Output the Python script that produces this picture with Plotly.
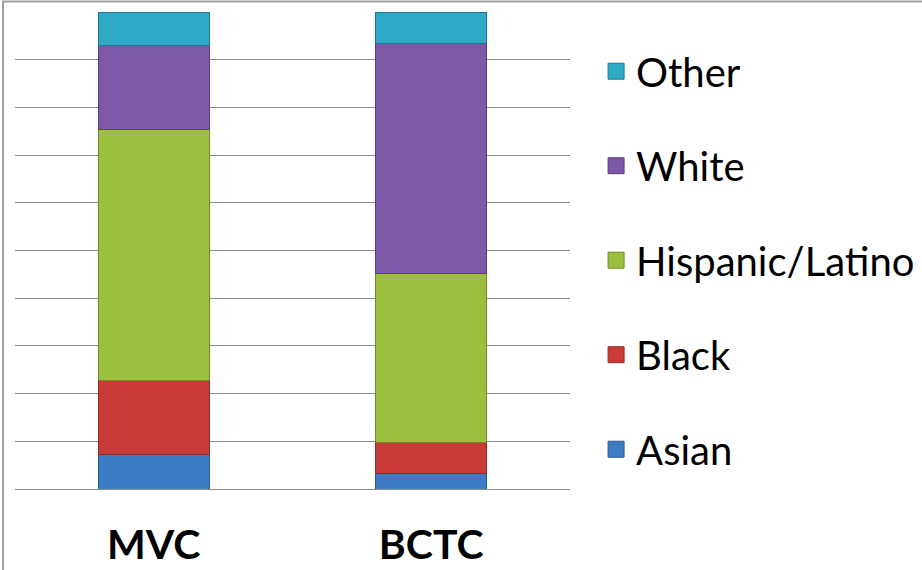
import plotly.graph_objects as go

categories = ["MVC", "BCTC"]
series_names = ["Asian", "Black", "Hispanic/Latino", "White", "Other"]
asian = [7.3, 3.3]
black = [15.4, 6.4]
hispanic = [52.6, 35.4]
white = [17.6, 48.3]
other = [7.1, 6.6]
values = [asian, black, hispanic, white, other]
colors = ["#3D7DC6", "#C93B39", "#9CBF3E", "#7E58A8", "#2EAAC6"]
edges = ["#2A5A91", "#8E2A28", "#6F8A2A", "#5A3D7A", "#1F7A90"]

fig = go.Figure()
for name, vals, c, e in zip(series_names, values, colors, edges):
    fig.add_trace(go.Bar(
        x=categories, y=vals, name=name, legendgroup=name, showlegend=False,
        marker=dict(color=c, line=dict(color=e, width=1)),
        width=0.4, hoverinfo="skip",
    ))

# legend entries (larger square symbols), top to bottom
for name, c, e in reversed(list(zip(series_names, colors, edges))):
    fig.add_trace(go.Scatter(
        x=[None], y=[None], mode="markers", name=name, legendgroup=name,
        marker=dict(symbol="square", size=16, color=c, line=dict(color=e, width=1)),
        showlegend=True,
    ))

fig.update_layout(
    barmode="stack",
    width=922, height=570,
    margin=dict(l=15, r=352, t=12, b=81, autoexpand=False),
    paper_bgcolor="white", plot_bgcolor="white",
    font=dict(family="Lato, Open Sans, sans-serif", color="black"),
    showlegend=True,
    legend=dict(
        x=1.047, xanchor="left", y=0.944, yanchor="top",
        traceorder="grouped", tracegroupgap=39.5,
        font=dict(size=40, family="Lato, sans-serif"),
        itemwidth=30,
    ),
    xaxis=dict(
        tickfont=dict(size=41, family="Lato, sans-serif", weight="bold"),
        showline=False, ticks="", showgrid=False, ticklabelstandoff=28,
        automargin=False,
    ),
    yaxis=dict(
        range=[0, 100], dtick=10, showgrid=True, gridcolor="#8c8c8c",
        gridwidth=1, showticklabels=False, zeroline=True,
        zerolinecolor="#8c8c8c", zerolinewidth=1, ticks="", automargin=False,
    ),
    bargap=0.6,
)

fig.add_shape(type="rect", xref="paper", yref="paper",
              x0=(3 - 15) / 555, x1=2, y0=-1, y1=(489 - 1.5) / 477,
              line=dict(color="#a0a0a0", width=2), layer="above")

fig.write_html("out.html", config={"displayModeBar": False},
               post_script="document.body.style.margin='0';")
